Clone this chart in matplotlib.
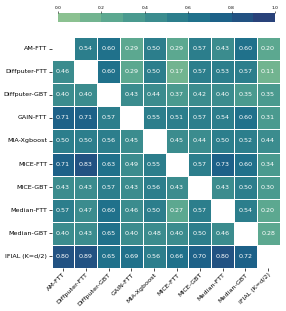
import numpy as np
import matplotlib
matplotlib.use("Agg")
import matplotlib.pyplot as plt
import seaborn as sns

labels = ["AM-FTT", "Diffputer-FTT", "Diffputer-GBT", "GAIN-FTT", "MIA-Xgboost",
          "MICE-FTT", "MICE-GBT", "Median-FTT", "Median-GBT", "IFIAL (K=d/2)"]

nan = np.nan
row_am_ftt = [nan, .54, .60, .29, .50, .29, .57, .43, .60, .20]
row_diff_ftt = [.46, nan, .60, .29, .50, .17, .57, .53, .57, .11]
row_diff_gbt = [.40, .40, nan, .43, .44, .37, .42, .40, .35, .35]
row_gain_ftt = [.71, .71, .57, nan, .55, .51, .57, .54, .60, .31]
row_mia = [.50, .50, .56, .45, nan, .45, .44, .50, .52, .44]
row_mice_ftt = [.71, .83, .63, .49, .55, nan, .57, .73, .60, .34]
row_mice_gbt = [.43, .43, .57, .43, .56, .43, nan, .43, .50, .30]
row_median_ftt = [.57, .47, .60, .46, .50, .27, .57, nan, .54, .20]
row_median_gbt = [.40, .43, .65, .40, .48, .40, .50, .46, nan, .28]
row_ifial = [.80, .89, .65, .69, .56, .66, .70, .80, .72, nan]

data = np.array([row_am_ftt, row_diff_ftt, row_diff_gbt, row_gain_ftt, row_mia,
                 row_mice_ftt, row_mice_gbt, row_median_ftt, row_median_gbt, row_ifial])

cmap = matplotlib.colors.ListedColormap(sns.color_palette("crest", 10))

fig = plt.figure(figsize=(2.86, 3.11), dpi=100)
ax = fig.add_axes([51.5 / 286, 1 - 268 / 311, 228 / 286, 231 / 311])
cax = fig.add_axes([58 / 286, 1 - 22 / 311, 217 / 286, 9 / 311])

sns.heatmap(data, ax=ax, cbar_ax=cax, cmap=cmap, vmin=0, vmax=1,
            annot=True, fmt=".2f", annot_kws={"size": 4.6, "color": "white"},
            linewidths=0.5, linecolor="white",
            cbar_kws={"orientation": "horizontal", "ticks": [0, .2, .4, .6, .8, 1.0]},
            xticklabels=labels, yticklabels=labels)

cax.xaxis.set_ticks_position("top")
cax.tick_params(labelsize=3.2, length=1.5, width=0.4, pad=1)
cax.set_xticklabels(["0.0", "0.2", "0.4", "0.6", "0.8", "1.0"])
for s in cax.spines.values():
    s.set_visible(False)

ax.tick_params(labelsize=4.6, length=2, width=0.5, pad=1)
plt.setp(ax.get_xticklabels(), rotation=45, ha="right", rotation_mode="anchor")
plt.setp(ax.get_yticklabels(), rotation=0)

fig.savefig("out.png", dpi=100)
